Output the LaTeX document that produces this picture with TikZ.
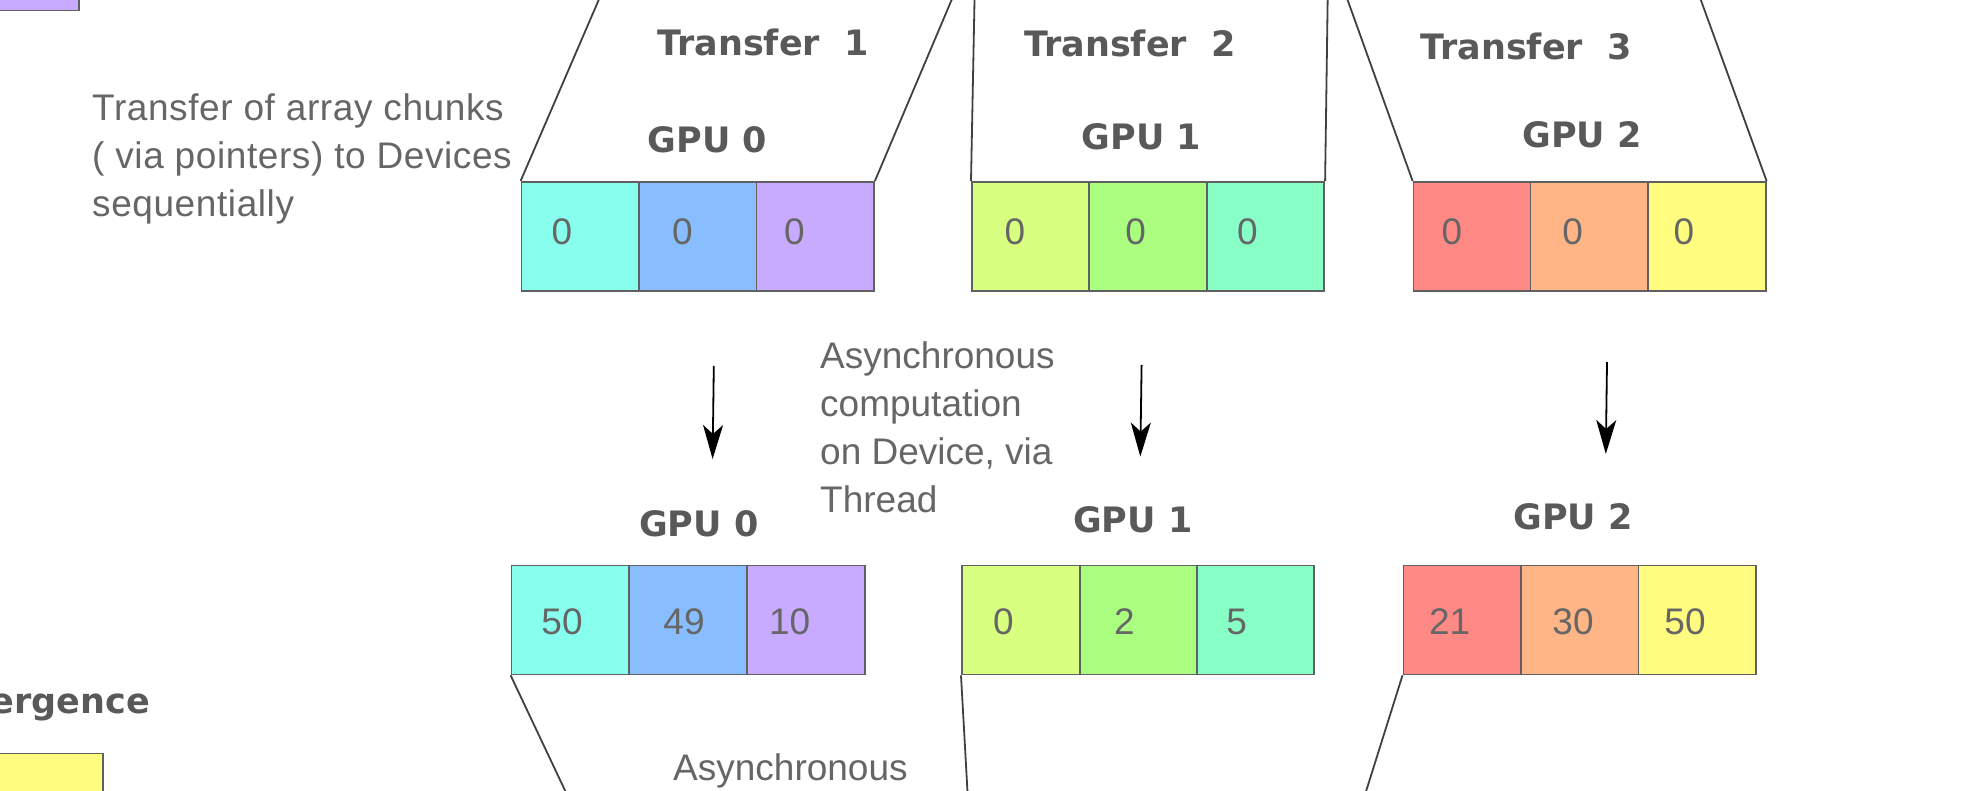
\documentclass[tikz,border=0pt]{standalone}
\usepackage{fontspec}
\setmainfont{Liberation Sans}
\newfontfamily\labfont{DejaVu Sans}
\newfontfamily\widefont{Liberation Sans}[LetterSpace=1.6]
\usetikzlibrary{arrows.meta}
\definecolor{cA}{HTML}{88FFEE}
\definecolor{cB}{HTML}{88BEFF}
\definecolor{cC}{HTML}{C8AAFF}
\definecolor{cD}{HTML}{D9FF80}
\definecolor{cE}{HTML}{AAFF80}
\definecolor{cF}{HTML}{88FFC6}
\definecolor{cG}{HTML}{FF8A85}
\definecolor{cH}{HTML}{FFB585}
\definecolor{cI}{HTML}{FFFC80}
\definecolor{cellborder}{HTML}{606060}
\definecolor{linegray}{HTML}{404040}
\definecolor{labgray}{HTML}{595959}
\definecolor{txtgray}{HTML}{666666}
\tikzset{
  cell/.style={draw=cellborder, line width=1.8pt, minimum width=117.5pt, minimum height=109pt, inner sep=0pt, anchor=north west},
  lab/.style={font=\labfont\bfseries\fontsize{35}{42}\selectfont, text=labgray, inner sep=0pt},
  txt/.style={font=\fontsize{37}{48}\selectfont, text=txtgray, inner sep=0pt, align=left},
  num/.style={font=\fontsize{37}{44}\selectfont, text=txtgray, inner sep=0pt},
  edge/.style={draw=linegray, line width=1.8pt},
  flow/.style={draw=black, line width=1.8pt, -{Stealth[length=34pt, width=20pt, inset=9pt]}}
}
\begin{document}
\begin{tikzpicture}[x=1pt, y=-1pt]
\useasboundingbox (0,0) rectangle (1967,791);
% corner fragments
\node[cell, fill=cC, minimum width=90pt, minimum height=30pt, anchor=south east] (pbox) at (79.5,11.5) {};
\node[cell, fill=cI, minimum width=110pt, minimum height=60pt] (ybox) at (-8,752.5) {};
\node[lab, anchor=base east] (conv) at (150,713) {ergence};
% top row
\node[cell, fill=cA] (t0a) at (520.6,181) {};
\node[cell, fill=cB] (t0b) at (638.3,181) {};
\node[cell, fill=cC] (t0c) at (755.6,181) {};
\node[cell, fill=cD] (t1a) at (971,181) {};
\node[cell, fill=cE] (t1b) at (1088,181) {};
\node[cell, fill=cF] (t1c) at (1205.8,181) {};
\node[cell, fill=cG] (t2a) at (1412.6,181) {};
\node[cell, fill=cH] (t2b) at (1529.6,181) {};
\node[cell, fill=cI] (t2c) at (1647.3,181) {};
% bottom row
\node[cell, fill=cA] (b0a) at (510.6,564.5) {};
\node[cell, fill=cB] (b0b) at (628.3,564.5) {};
\node[cell, fill=cC] (b0c) at (746.2,564.5) {};
\node[cell, fill=cD] (b1a) at (961,564.5) {};
\node[cell, fill=cE] (b1b) at (1078.8,564.5) {};
\node[cell, fill=cF] (b1c) at (1195.8,564.5) {};
\node[cell, fill=cG] (b2a) at (1402.5,564.5) {};
\node[cell, fill=cH] (b2b) at (1520.2,564.5) {};
\node[cell, fill=cI] (b2c) at (1637.5,564.5) {};
% numbers top
\node[num] (nt0a) at (562,232) {0};
\node[num] (nt0b) at (682.5,232) {0};
\node[num] (nt0c) at (794.4,232) {0};
\node[num] (nt1a) at (1015,232) {0};
\node[num] (nt1b) at (1135.7,232) {0};
\node[num] (nt1c) at (1247.4,232) {0};
\node[num] (nt2a) at (1451.8,232) {0};
\node[num] (nt2b) at (1572.6,232) {0};
\node[num] (nt2c) at (1684,232) {0};
% numbers bottom
\node[num] (nb0a) at (562,621.5) {50};
\node[num] (nb0b) at (684,621.5) {49};
\node[num] (nb0c) at (789.6,621.5) {10};
\node[num] (nb1a) at (1003.4,621.5) {0};
\node[num] (nb1b) at (1124.5,621.5) {2};
\node[num] (nb1c) at (1236.7,621.5) {5};
\node[num] (nb2a) at (1449.7,621.5) {21};
\node[num] (nb2b) at (1573,621.5) {30};
\node[num] (nb2c) at (1685,621.5) {50};
% labels
\node[lab] (tr1) at (763,42) {Transfer~~1};
\node[lab] (tr2) at (1130,43) {Transfer~~2};
\node[lab] (tr3) at (1526,46.5) {Transfer~~3};
\node[lab] (g0t) at (707.6,140) {GPU 0};
\node[lab] (g1t) at (1141.5,136.5) {GPU 1};
\node[lab] (g2t) at (1582,135) {GPU 2};
\node[lab] (g0b) at (698.7,523.5) {GPU 0};
\node[lab] (g1b) at (1132.8,519.4) {GPU 1};
\node[lab] (g2b) at (1573,516.7) {GPU 2};
% texts
\node[txt, font=\widefont\fontsize{37}{48}\selectfont, anchor=north west] (ttext) at (92,93.5) {Transfer of array chunks\\( via pointers) to Devices\\sequentially};
\node[txt, anchor=north west] (atext) at (820,341) {Asynchronous\\computation\\on Device, via\\Thread};
\node[txt, anchor=base west] (btext) at (673,780) {Asynchronous};
% trapezoid edges (free ends)
\coordinate (e0l) at (603,-10);
\coordinate (e0r) at (955.8,-10);
\coordinate (e1l) at (974.7,-10);
\coordinate (e1r) at (1327.8,-10);
\coordinate (e2l) at (1344,-10);
\coordinate (e2r) at (1697.2,-10);
\coordinate (f0l) at (570,801);
\coordinate (f1l) at (968,801);
\coordinate (f2l) at (1363,801);
\draw[edge] (t0a.north west) -- (e0l);
\draw[edge] (t0c.north east) -- (e0r);
\draw[edge] (t1a.north west) -- (e1l);
\draw[edge] (t1c.north east) -- (e1r);
\draw[edge] (t2a.north west) -- (e2l);
\draw[edge] (t2c.north east) -- (e2r);
\draw[edge] (b0a.south west) -- (f0l);
\draw[edge] (b1a.south west) -- (f1l);
\draw[edge] (b2a.south west) -- (f2l);
% arrows
\coordinate (a0s) at (713.8,366);
\coordinate (a0e) at (712.6,459);
\coordinate (a1s) at (1141.6,365);
\coordinate (a1e) at (1140.3,456.6);
\coordinate (a2s) at (1607,362);
\coordinate (a2e) at (1605.8,454);
\draw[flow] (a0s) -- (a0e);
\draw[flow] (a1s) -- (a1e);
\draw[flow] (a2s) -- (a2e);
\end{tikzpicture}
\end{document}
